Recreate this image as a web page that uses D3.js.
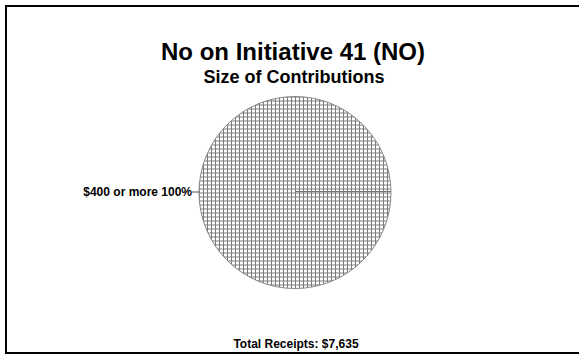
<!DOCTYPE html>
<html><head><meta charset="utf-8">
<script src="https://cdn.jsdelivr.net/npm/d3@7"></script>
<style>body{margin:0;background:#fff}svg{display:block}text{font-family:"Liberation Sans",Arial,sans-serif;font-weight:bold;fill:#000}</style>
</head><body>
<svg id="c" width="579" height="356"></svg>
<script>
const categories = ["$400 or more"];
const values = [7635];
const percents = ["100%"];
const title = "No on Initiative 41 (NO)";
const subtitle = "Size of Contributions";
const footer = "Total Receipts: $7,635";

const svg = d3.select("#c");
svg.append("rect").attr("x",6).attr("y",6).attr("width",576).attr("height",347)
  .attr("fill","#fff").attr("stroke","#000").attr("stroke-width",2);

const defs = svg.append("defs");
const pat = defs.append("pattern").attr("id","hatch").attr("patternUnits","userSpaceOnUse")
  .attr("width",4).attr("height",4);
pat.append("rect").attr("width",4).attr("height",4).attr("fill","#fff");
pat.append("path").attr("d","M0,0.5H4M0.5,0V4").attr("stroke","#7a7a7a").attr("stroke-width",1);

const cx=295, cy=192.5, r=96;
const pie = d3.pie().sort(null).startAngle(Math.PI/2).endAngle(Math.PI/2+2*Math.PI)(values);
const arc = d3.arc().innerRadius(0).outerRadius(r);
const g = svg.append("g").attr("transform",`translate(${cx},${cy})`);
g.selectAll("path").data(pie).join("path").attr("d",arc)
  .attr("fill","url(#hatch)").attr("stroke","#888").attr("stroke-width",1);
g.selectAll("line.b").data(pie).join("line").attr("class","b")
  .attr("x1",0).attr("y1",-1).attr("x2",d=>r*Math.sin(d.startAngle)).attr("y2",d=>-r*Math.cos(d.startAngle)-1)
  .attr("stroke","#777").attr("stroke-width",1.2);
g.selectAll("g.lab").data(pie).join("g").attr("class","lab").each(function(d,i){
  const a=(d.startAngle+d.endAngle)/2;
  const x0=r*Math.sin(a), y0=-r*Math.cos(a);
  const s=d3.select(this);
  s.append("line").attr("x1",x0).attr("y1",y0-0.5).attr("x2",x0-7).attr("y2",y0-0.5).attr("stroke","#555");
  s.append("text").attr("x",x0-7).attr("y",y0+3.5).attr("text-anchor","end")
    .attr("font-size",12).text(categories[i]+" "+percents[i]);
});

svg.append("text").attr("x",293).attr("y",60).attr("text-anchor","middle").attr("font-size",24).text(title);
svg.append("text").attr("x",294).attr("y",83).attr("text-anchor","middle").attr("font-size",18).text(subtitle);
svg.append("text").attr("x",296).attr("y",348).attr("text-anchor","middle").attr("font-size",12).text(footer);
</script>
</body></html>
